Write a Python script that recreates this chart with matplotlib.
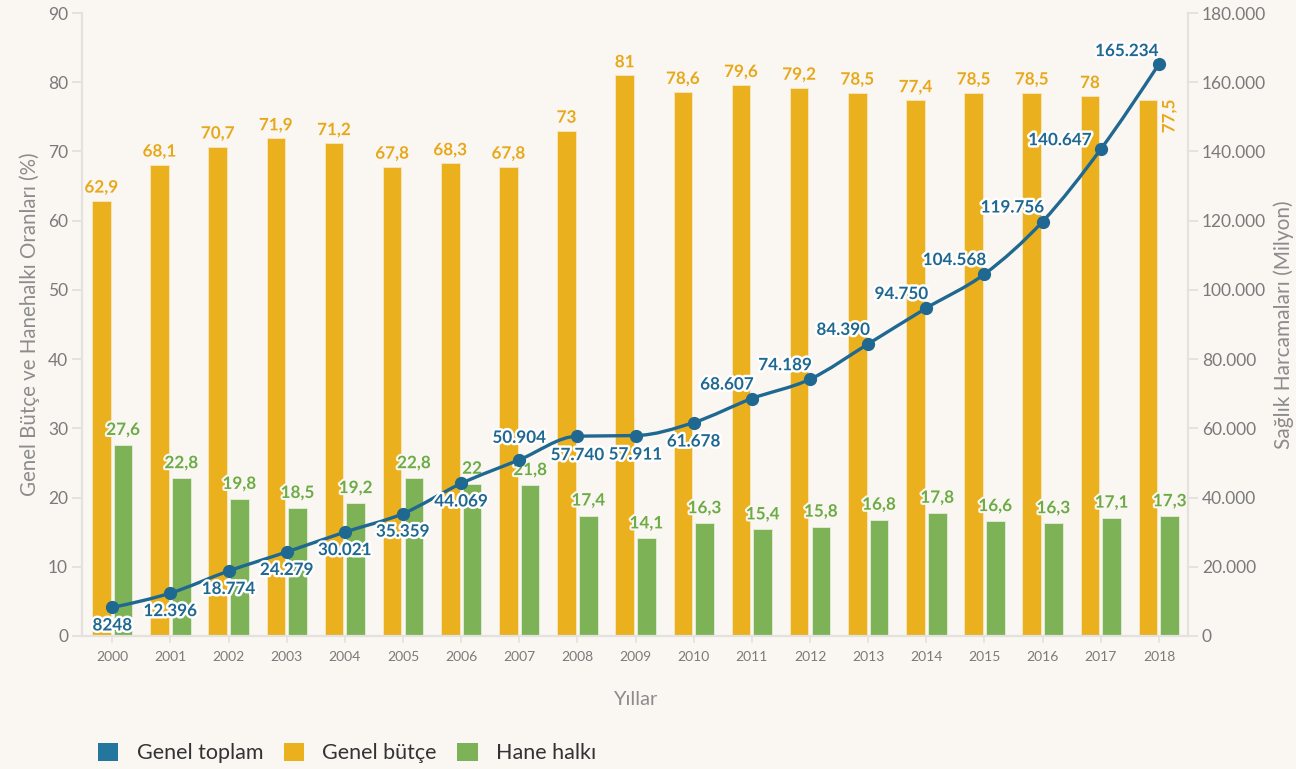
import numpy as np
import matplotlib
matplotlib.use("Agg")
import matplotlib.pyplot as plt
from matplotlib.path import Path
from matplotlib.patches import PathPatch, Patch
import matplotlib.patheffects as pe

plt.rcParams['font.family'] = ['Lato', 'DejaVu Sans']

# ---- data ----
years = ["2000", "2001", "2002", "2003", "2004", "2005", "2006", "2007", "2008", "2009",
         "2010", "2011", "2012", "2013", "2014", "2015", "2016", "2017", "2018"]
genel_butce = [62.9, 68.1, 70.7, 71.9, 71.2, 67.8, 68.3, 67.8, 73, 81,
               78.6, 79.6, 79.2, 78.5, 77.4, 78.5, 78.5, 78, 77.5]
hane_halki = [27.6, 22.8, 19.8, 18.5, 19.2, 22.8, 22, 21.8, 17.4, 14.1,
              16.3, 15.4, 15.8, 16.8, 17.8, 16.6, 16.3, 17.1, 17.3]
genel_toplam = [8248, 12396, 18774, 24279, 30021, 35359, 44069, 50904, 57740, 57911,
                61678, 68607, 74189, 84390, 94750, 104568, 119756, 140647, 165234]
left_ticks = [0, 10, 20, 30, 40, 50, 60, 70, 80, 90]
right_ticks = [0, 20000, 40000, 60000, 80000, 100000, 120000, 140000, 160000, 180000]

# ---- style ----
BG = "#faf7f2"
ORANGE = "#ebb01d"
GREEN = "#7db257"
BLUE = "#1f6891"
LEG_BLUE = "#25769e"
ORANGE_TXT = "#e8a81c"
GREEN_TXT = "#6cab45"
AXIS_C = "#e4e2de"
TICK_TXT = "#7a7a7a"
LABEL_TXT = "#8c8c8c"
VAL_FS = 12.3

# label placement for line values: (ha, dx_px, dy_px)
line_lab_pos = ([("center", 0, -18)] * 7 + [("center", 0, 22)] + [("center", 0, -19)] * 3
                + [("right", 2, 14)] * 6 + [("right", -9, 9), ("right", 0, 13)])


def fmt_pct(v):
    return str(int(v)) if float(v).is_integer() else f"{v}".replace(".", ",")


def fmt_thousands(v):
    v = int(v)
    if v < 10000:
        return str(v)
    return f"{v:,}".replace(",", ".")


fig = plt.figure(figsize=(12.96, 7.69), dpi=100, facecolor=BG)
ax = fig.add_axes([82 / 1296, 1 - 636 / 769, (1188 - 82) / 1296, (636 - 13) / 769])
ax.set_facecolor(BG)
x = np.arange(len(years))
w = 0.32
off = 0.187

ax.bar(x - off, genel_butce, w, color=ORANGE, edgecolor="#f6e8c4", linewidth=0.6, zorder=2)
ax.bar(x + off, hane_halki, w, color=GREEN, edgecolor="#e4eedb", linewidth=0.6, zorder=2)

ax.set_xlim(-0.52, 18.5)
ax.set_ylim(0, 90)
ax.set_yticks(left_ticks)
ax.set_xticks(x)
ax.set_xticklabels(years)

stroke_bg = [pe.withStroke(linewidth=3, foreground=BG)]
for i, v in enumerate(genel_butce):
    if i == len(genel_butce) - 1:
        ax.annotate(fmt_pct(v), (x[i] - off + w / 2, v), xytext=(4, 0), textcoords="offset pixels",
                    ha="left", va="top", rotation=90, fontsize=VAL_FS, fontweight="bold",
                    color=ORANGE_TXT, path_effects=stroke_bg, zorder=5)
    else:
        ax.annotate(fmt_pct(v), (x[i] - off, v), xytext=(0, 13), textcoords="offset pixels",
                    ha="center", va="center", fontsize=VAL_FS, fontweight="bold",
                    color=ORANGE_TXT, path_effects=stroke_bg, zorder=5)
for i, v in enumerate(hane_halki):
    ax.annotate(fmt_pct(v), (x[i] + off, v), xytext=(0, 15), textcoords="offset pixels",
                ha="center", va="center", fontsize=VAL_FS, fontweight="bold",
                color=GREEN_TXT, path_effects=stroke_bg, zorder=5)

for s in ["top", "right"]:
    ax.spines[s].set_visible(False)
for s in ["left", "bottom"]:
    ax.spines[s].set_color(AXIS_C)
    ax.spines[s].set_linewidth(1.6)
ax.tick_params(axis="y", length=7, width=1.4, color=AXIS_C, labelsize=12.5, labelcolor=TICK_TXT, pad=3)
ax.tick_params(axis="x", length=5, width=1.2, color=AXIS_C, labelsize=10, labelcolor=TICK_TXT, pad=6)
ax.set_ylabel("Genel Bütçe ve Hanehalkı Oranları (%)", fontsize=14.8, color=LABEL_TXT, labelpad=6)
ax.set_xlabel("Yıllar", fontsize=14.5, color=LABEL_TXT, labelpad=20)

# ---- right axis & line ----
ax2 = ax.twinx()
ax2.set_ylim(0, 180000)
ax2.set_yticks(right_ticks)
ax2.set_yticklabels([fmt_thousands(t) if t else "0" for t in right_ticks])
for s in ["top", "left", "bottom"]:
    ax2.spines[s].set_visible(False)
ax2.spines["right"].set_color(AXIS_C)
ax2.spines["right"].set_linewidth(1.6)
ax2.tick_params(axis="y", length=7, width=1.4, color=AXIS_C, labelsize=12.5, labelcolor=TICK_TXT, pad=3)
ax2.set_ylabel("Sağlık Harcamaları (Milyon)", fontsize=15, color=LABEL_TXT, labelpad=5)

# monotone-x smooth curve (d3 curveMonotoneX style) as bezier path
xs = x.astype(float)
ys = np.array(genel_toplam, dtype=float)
n = len(xs)
h = np.diff(xs)
s = np.diff(ys) / h
t = np.zeros(n)
for i in range(1, n - 1):
    p = (s[i - 1] * h[i] + s[i] * h[i - 1]) / (h[i - 1] + h[i])
    t[i] = (np.sign(s[i - 1]) + np.sign(s[i])) * min(abs(s[i - 1]), abs(s[i]), 0.5 * abs(p))
t[0] = (3 * s[0] - t[1]) / 2
t[-1] = (3 * s[-1] - t[-2]) / 2
verts = [(xs[0], ys[0])]
codes = [Path.MOVETO]
for i in range(n - 1):
    dx = (xs[i + 1] - xs[i]) / 3
    verts += [(xs[i] + dx, ys[i] + dx * t[i]), (xs[i + 1] - dx, ys[i + 1] - dx * t[i + 1]), (xs[i + 1], ys[i + 1])]
    codes += [Path.CURVE4] * 3
ax2.add_patch(PathPatch(Path(verts, codes), facecolor="none", edgecolor=BLUE, linewidth=2.4,
                        capstyle="round", joinstyle="round", zorder=3))
ax2.plot(xs, ys, linestyle="none", marker="o", markersize=8.5, color=BLUE, zorder=4)

stroke_w = [pe.withStroke(linewidth=3.5, foreground="#ffffff")]
for i, v in enumerate(genel_toplam):
    ha, dx, dy = line_lab_pos[i]
    ax2.annotate(fmt_thousands(v), (xs[i], v), xytext=(dx, dy), textcoords="offset pixels",
                 ha=ha, va="center", fontsize=VAL_FS, fontweight="bold", color=BLUE,
                 path_effects=stroke_w, zorder=6)

# ---- legend ----
handles = [Patch(facecolor=LEG_BLUE, edgecolor="none", label="Genel toplam"),
           Patch(facecolor=ORANGE, edgecolor="none", label="Genel bütçe"),
           Patch(facecolor=GREEN, edgecolor="none", label="Hane halkı")]
fig.legend(handles=handles, loc="center left", bbox_to_anchor=(98 / 1296, 1 - 753 / 769),
           ncol=3, frameon=False, fontsize=15.5, handlelength=0.95, handleheight=0.95,
           handletextpad=0.85, columnspacing=0.95, borderpad=0, borderaxespad=0,
           labelcolor="#333333")

fig.savefig("out.png", dpi=100, facecolor=BG)
